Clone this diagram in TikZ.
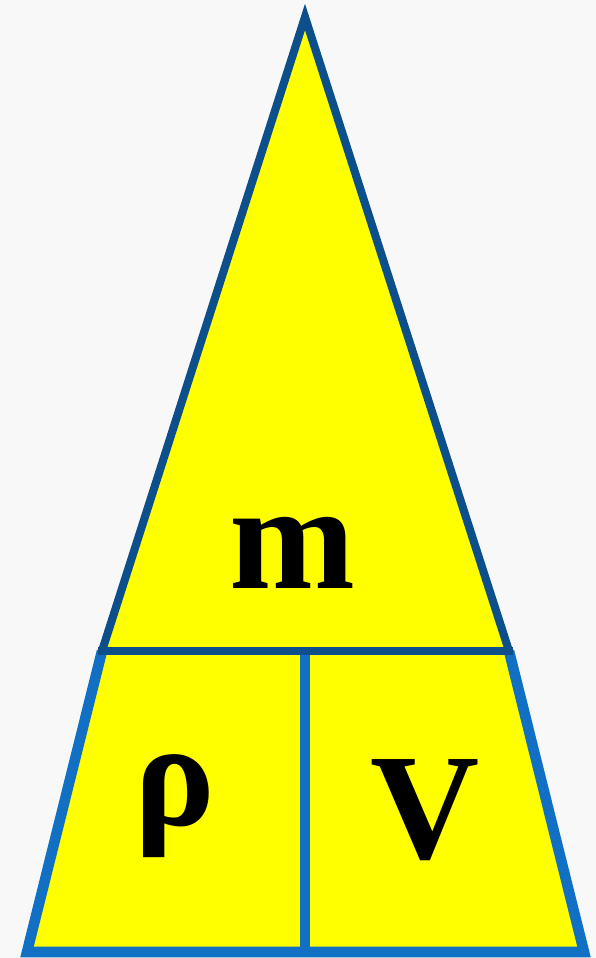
\documentclass[tikz,border=0pt]{standalone}
\usepackage{fontspec}
\setmainfont{Liberation Serif}
\definecolor{edgedark}{HTML}{0D4F8B}
\definecolor{edgelight}{HTML}{1170C4}
\definecolor{fillyellow}{HTML}{FFFF00}
\definecolor{paper}{HTML}{F8F8F8}
\tikzset{
  upper edge/.style={
    draw=edgedark, line width=4.6pt, line join=miter
  },
  lower edge/.style={
    draw=edgelight, line width=6pt, line join=miter
  },
  letter/.style={
    anchor=base, inner sep=0pt, font=\fontsize{86}{86}\selectfont\bfseries
  }
}

\begin{document}
\begin{tikzpicture}[x=0.2mm, y=-0.2mm]

% background
\fill[paper] (0,0) rectangle (596,958);
\useasboundingbox (0,0) rectangle (596,958);

% ---------------------------
% corners
% ---------------------------
\coordinate (apex) at (305,17);
\coordinate (ml) at (102,651);
\coordinate (mr) at (509,651);
\coordinate (bl) at (27,952);
\coordinate (br) at (584,952);
\coordinate (mt) at (305,651);
\coordinate (mb) at (305,952);

% fills
\fill[fillyellow] (apex) -- (mr) -- (br) -- (bl) -- (ml) -- cycle;

% lower part: rho and V
\draw[lower edge] (ml) -- (bl) -- (br) -- (mr);
\draw[lower edge] (mt) -- (mb);

% upper part: m
\draw[upper edge] (ml) -- (apex) -- (mr);
\draw[upper edge, line cap=rect] (ml) -- (mr);

% labels
\node[letter] (mass) at (292,588) {m};
\node[letter] (dens) at (175,825) {ρ};
\node[letter] (vol) at (425,858) {V};

\end{tikzpicture}
\end{document}
